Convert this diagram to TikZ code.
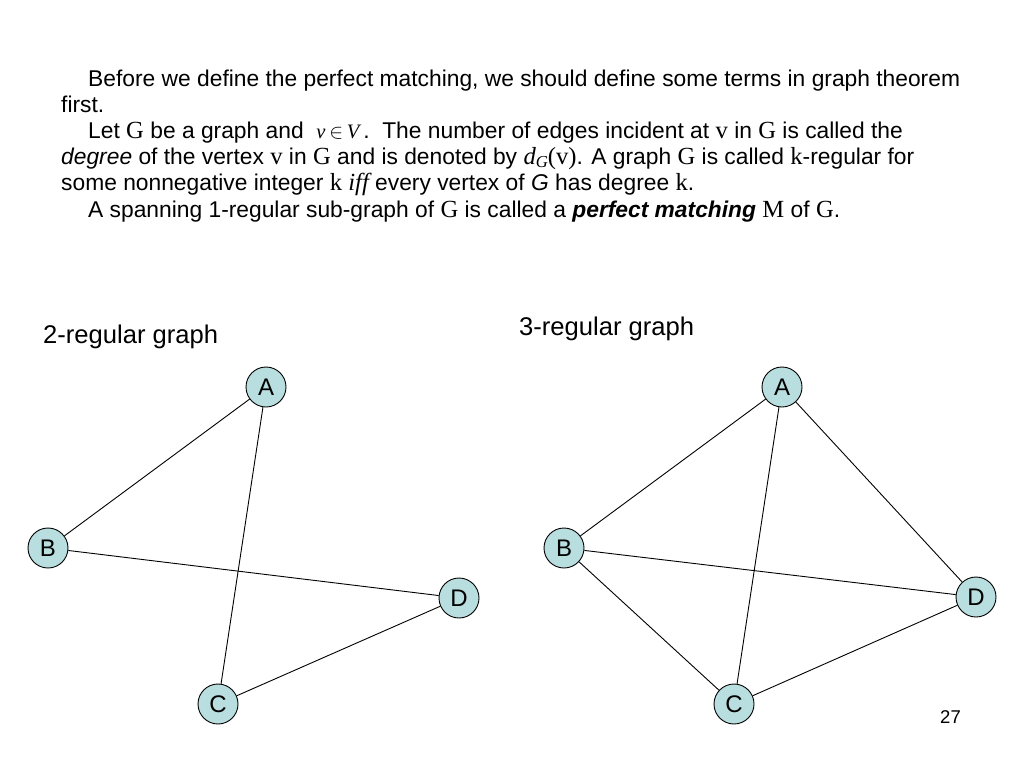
\documentclass[tikz,border=0pt]{standalone}
\usepackage{fontspec}
\setmainfont{Liberation Sans}
\newfontfamily\tms[Scale=1.08]{Liberation Serif}
\begin{document}
\begin{tikzpicture}[x=1pt,y=-1pt,
  txt/.style={anchor=base west,inner sep=0pt,font=\fontsize{22.8}{26}\selectfont},
  head/.style={anchor=base west,inner sep=0pt,font=\fontsize{25.6}{28}\selectfont},
  vtx/.style={circle,draw=black,line width=0.9pt,fill=vcol,minimum size=40pt,inner sep=0pt,font=\fontsize{24}{26}\selectfont},
  edge/.style={line width=0.9pt,black}]
\definecolor{vcol}{RGB}{185,222,223}
\useasboundingbox (0,0) rectangle (1024,768);
\fill[white] (0,0) rectangle (1024,768);
% text
\node[txt] (l1) at (88,86) {Before we define the perfect matching, we should define some terms in graph theorem};
\node[txt] (l2) at (61,112) {first.};
\node[txt] (l3) at (88,138) {Let {\tms G} be a graph and \ {\tms\itshape\fontsize{19}{22}\selectfont v}\,$\in$\,{\tms\itshape\fontsize{19}{22}\selectfont V}\,.\ \ The number of edges incident at {\tms v} in {\tms G} is called the};
\node[txt] (l4) at (61,164) {\textit{degree} of the vertex {\tms v} in {\tms G} and is denoted by {\tms\itshape d\raisebox{-0.3ex}{\fontsize{15.5}{16}\selectfont G}}{\tms(v)}. A graph {\tms G} is called {\tms k}-regular for};
\node[txt] (l5) at (61,190) {some nonnegative integer {\tms k \itshape iff} every vertex of \textit{G} has degree {\tms k}.};
\node[txt] (l6) at (88,217) {A spanning 1-regular sub-graph of {\tms G} is called a \textbf{\textit{perfect matching}} {\tms M} of {\tms G}.};
% headings
\node[head] (h2) at (43,343) {2-regular graph};
\node[head] (h3) at (519,335) {3-regular graph};
\node[anchor=base west,inner sep=0pt,font=\fontsize{18.5}{20}\selectfont] (pg) at (940,723) {27};
% left graph
\node[vtx] (A1) at (266,387) {A};
\node[vtx] (B1) at (48,548) {B};
\node[vtx] (D1) at (459,598) {D};
\node[vtx] (C1) at (218,704) {C};
\draw[edge] (A1) -- (B1);
\draw[edge] (A1) -- (C1);
\draw[edge] (B1) -- (D1);
\draw[edge] (C1) -- (D1);
% right graph
\node[vtx] (A2) at (782,387) {A};
\node[vtx] (B2) at (564,548) {B};
\node[vtx] (D2) at (976,597) {D};
\node[vtx] (C2) at (734,704) {C};
\draw[edge] (A2) -- (B2);
\draw[edge] (A2) -- (C2);
\draw[edge] (A2) -- (D2);
\draw[edge] (B2) -- (D2);
\draw[edge] (B2) -- (C2);
\draw[edge] (C2) -- (D2);
\end{tikzpicture}
\end{document}
